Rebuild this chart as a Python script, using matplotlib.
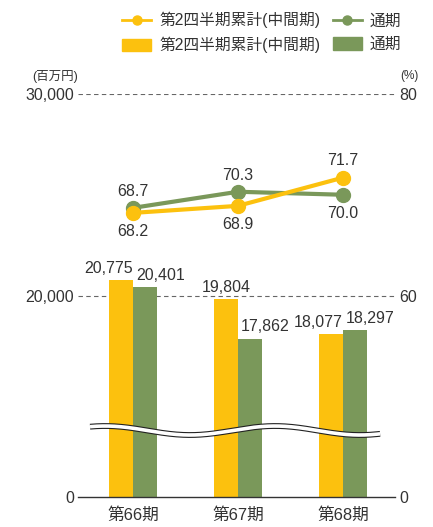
import matplotlib
matplotlib.use("Agg")
import matplotlib.pyplot as plt
import numpy as np
from matplotlib.lines import Line2D
from matplotlib.patches import Patch

plt.rcParams['font.family'] = ['Liberation Sans', 'Noto Sans CJK JP']
plt.rcParams['text.color'] = '#333333'

periods = ['第66期', '第67期', '第68期']
sales_half = [20775, 19804, 18077]     # 第2四半期累計(中間期), 百万円
sales_full = [20401, 17862, 18297]     # 通期, 百万円
ratio_half = [68.2, 68.9, 71.7]        # %
ratio_full = [68.7, 70.3, 70.0]        # %

label_half = '第2四半期累計(中間期)'
label_full = '通期'

yellow = '#FCC10E'
green = '#7A985A'
text_col = '#333333'

fig = plt.figure(figsize=(4.33, 5.27), dpi=100)
ax = fig.add_axes([0.1801, 0.0569, 0.7321, 0.7647])

x = np.arange(len(periods))
width = 0.228

# the lower part of the value axis is cut out (0 .. 10,000 hidden by the break)
bars_half = ax.bar(x - width / 2, sales_half, width, color=yellow, zorder=2)
bars_full = ax.bar(x + width / 2, sales_full, width, color=green, zorder=2)

ax.set_xlim(-0.524, 2.495)
ax.set_ylim(10000, 30000)
ax.set_yticks([10000, 20000, 30000])
ax.set_yticklabels(['0', '20,000', '30,000'])
ax.set_xticks(x)
ax.set_xticklabels(periods, fontsize=12)
ax.tick_params(axis='y', length=0, labelsize=11.5, colors=text_col, pad=3)
ax.tick_params(axis='x', length=0, colors=text_col, pad=7)
for side in ['top', 'left', 'right']:
    ax.spines[side].set_visible(False)
ax.spines['bottom'].set_color('#333333')
ax.spines['bottom'].set_linewidth(1.0)

for yv in [20000, 30000]:
    ax.axhline(yv, color='#666666', lw=0.8, ls=(0, (4, 3)), zorder=1)

# value labels on bars
half_align = ['right', 'center', 'right']
for i, b in enumerate(bars_half):
    h = b.get_height()
    if half_align[i] == 'center':
        xa = b.get_x() + b.get_width() / 2
    else:
        xa = b.get_x() + b.get_width()
    ax.annotate('{:,}'.format(h), xy=(xa, h), xytext=(0, 3),
                textcoords='offset points', ha=half_align[i], va='bottom',
                fontsize=11.5, color=text_col)
for b in bars_full:
    h = b.get_height()
    ax.annotate('{:,}'.format(h), xy=(b.get_x(), h), xytext=(2, 3),
                textcoords='offset points', ha='left', va='bottom',
                fontsize=11.5, color=text_col)

# wavy break across the bars
wx = np.linspace(0.038, 0.953, 300)
px = 78 + wx * 317
wy = (497 - (430.5 + 4.5 * np.cos(2 * np.pi * (px - 190) / 170))) / 403
ax.plot(wx, wy, transform=ax.transAxes, color='#222222', lw=4.2,
        solid_capstyle='butt', zorder=5, clip_on=False)
ax.plot(wx, wy, transform=ax.transAxes, color='white', lw=2.6,
        solid_capstyle='butt', zorder=6, clip_on=False)

# ratio lines on the right axis
ax2 = ax.twinx()
ax2.set_ylim(40, 80)
ax2.set_yticks([40, 60, 80])
ax2.set_yticklabels(['0', '60', '80'])
ax2.tick_params(axis='y', length=0, labelsize=11.5, colors=text_col, pad=3)
for side in ['top', 'left', 'right', 'bottom']:
    ax2.spines[side].set_visible(False)

ax2.plot(x, ratio_full, color=green, lw=3, marker='o', markersize=10, zorder=3)
ax2.plot(x, ratio_half, color=yellow, lw=3, marker='o', markersize=10, zorder=4)

full_above = [True, True, False]
for i, v in enumerate(ratio_full):
    ax2.annotate('{:.1f}'.format(v), xy=(x[i], v),
                 xytext=(0, 12 if full_above[i] else -13.5),
                 textcoords='offset points', ha='center', va='center',
                 fontsize=11.5, color=text_col)
for i, v in enumerate(ratio_half):
    ax2.annotate('{:.1f}'.format(v), xy=(x[i], v),
                 xytext=(0, -13.5 if full_above[i] else 12),
                 textcoords='offset points', ha='center', va='center',
                 fontsize=11.5, color=text_col)

# units
fig.text(78 / 433, 1 - 76 / 527, '(百万円)', ha='right', va='center',
         fontsize=9, color=text_col)
fig.text(400 / 433, 1 - 76 / 527, '(%)', ha='left', va='center',
         fontsize=8.5, color=text_col)

handles = [
    Line2D([], [], color=yellow, lw=2, marker='o', markersize=6.5),
    Patch(color=yellow),
    Line2D([], [], color=green, lw=2, marker='o', markersize=6.5),
    Patch(color=green),
]
labels = [label_half, label_half, label_full, label_full]
fig.legend(handles, labels, ncol=2, loc='upper right',
           bbox_to_anchor=(401 / 433, 1 - 12 / 527), frameon=False,
           fontsize=11.3, handlelength=1.85, handleheight=0.85,
           handletextpad=0.5, columnspacing=0.8, labelspacing=0.55,
           borderpad=0, borderaxespad=0)

fig.savefig('out.png', dpi=100)
